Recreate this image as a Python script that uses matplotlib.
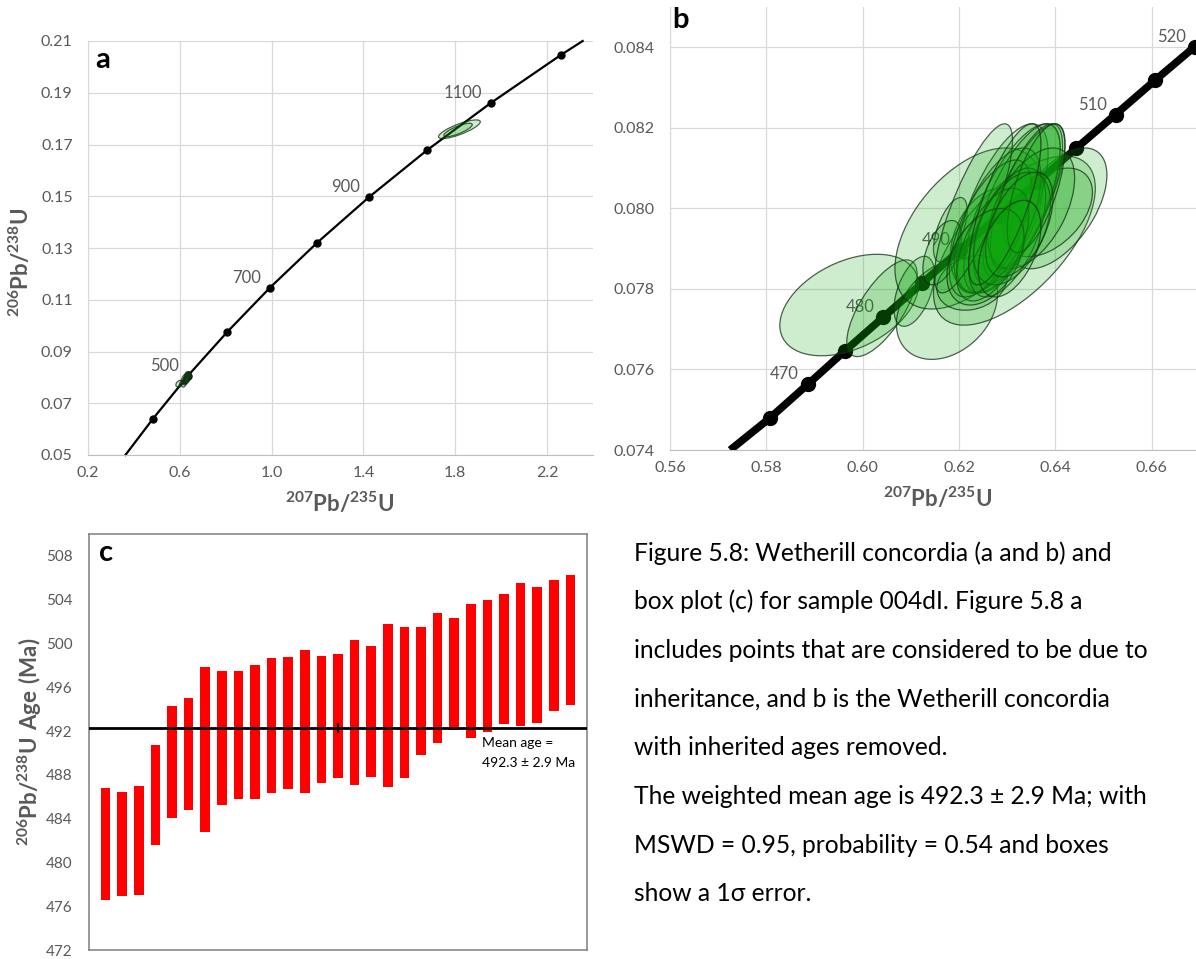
import numpy as np
import matplotlib.pyplot as plt
from matplotlib.patches import Ellipse

plt.rcParams['font.family'] = ['Lato', 'DejaVu Sans']
plt.rcParams['mathtext.fontset'] = 'custom'
plt.rcParams['mathtext.rm'] = 'Lato'
plt.rcParams['mathtext.bf'] = 'Lato:bold'

GREY = '#595959'

# --- panel a: concordia age markers (Ma) and curve ends
conc_a_age = [400, 500, 600, 700, 800, 900, 1000, 1100, 1200]
conc_a_x = [0.483, 0.636, 0.806, 0.993, 1.199, 1.426, 1.677, 1.954, 2.260]
conc_a_y = [0.0640, 0.0807, 0.0975, 0.1147, 0.1321, 0.1498, 0.1678, 0.1860, 0.2046]
conc_a_ends_x = [0.363, 2.355]
conc_a_ends_y = [0.050, 0.210]
labels_a = [500, 700, 900, 1100]

# --- panel b: concordia age markers (Ma) and curve ends
conc_b_age = [465, 470, 475, 480, 485, 490, 495, 500, 505, 510, 515, 520]
conc_b_x = [0.5808, 0.5886, 0.5964, 0.6043, 0.6123, 0.6202, 0.6282, 0.6362,
            0.6443, 0.6525, 0.6607, 0.6689]
conc_b_y = [0.07480, 0.07563, 0.07647, 0.07730, 0.07814, 0.07897, 0.07981,
            0.08065, 0.08149, 0.08233, 0.08318, 0.08401]
conc_b_ends_x = [0.5725, 0.6771]
conc_b_ends_y = [0.0740, 0.08486]
labels_b = [470, 480, 490, 510, 520]

# --- error ellipses of the analyses kept in b (centre, half extent in x / y, correlation)
ell_x = [0.5972, 0.6040, 0.6107, 0.6175, 0.6220, 0.6315, 0.6405, 0.6385, 0.6262, 0.6227,
         0.6182, 0.6165, 0.6290, 0.6310, 0.6320, 0.6335, 0.6280, 0.6265, 0.6340, 0.6300,
         0.6350, 0.6270, 0.6230, 0.6310, 0.6360, 0.6255, 0.6325, 0.6295, 0.6305]
ell_y = [0.07760, 0.07752, 0.07794, 0.07750, 0.07950, 0.07920, 0.08000, 0.07990, 0.07920, 0.07815,
         0.07947, 0.07890, 0.08000, 0.08000, 0.08010, 0.08020, 0.07970, 0.07950, 0.08030, 0.07940,
         0.08000, 0.07910, 0.08000, 0.07950, 0.08050, 0.07880, 0.07960, 0.08010, 0.07900]
ell_hx = [0.0144, 0.0073, 0.0042, 0.0105, 0.0153, 0.0168, 0.0102, 0.0092, 0.0080, 0.0073,
          0.0035, 0.0040, 0.0095, 0.0100, 0.0090, 0.0085, 0.0090, 0.0085, 0.0075, 0.0080,
          0.0090, 0.0075, 0.0081, 0.0080, 0.0060, 0.0080, 0.0070, 0.0075, 0.0065]
ell_hy = [0.00126, 0.00120, 0.00087, 0.00125, 0.00200, 0.00210, 0.00150, 0.00110, 0.00130, 0.00068,
          0.00080, 0.00080, 0.00210, 0.00210, 0.00200, 0.00190, 0.00180, 0.00170, 0.00180, 0.00160,
          0.00150, 0.00140, 0.00210, 0.00140, 0.00160, 0.00120, 0.00130, 0.00200, 0.00120]
ell_rho = [0.40, 0.70, 0.50, 0.30, 0.50, 0.62, 0.55, 0.45, 0.30, 0.20,
           0.60, 0.50, 0.65, 0.70, 0.70, 0.75, 0.60, 0.62, 0.70, 0.55,
           0.50, 0.55, 0.80, 0.45, 0.65, 0.40, 0.50, 0.75, 0.45]

# inherited analyses (only shown in a)
inh_x = [1.818, 1.812]
inh_y = [0.1759, 0.1756]
inh_hx = [0.091, 0.062]
inh_hy = [0.0036, 0.0026]
inh_rho = [0.80, 0.80]

# --- panel c: 1 sigma age boxes (Ma), sorted
age_low = [476.6, 476.9, 477.0, 481.6, 484.1, 484.8, 482.8, 485.2, 485.8, 485.8,
           486.3, 486.7, 486.3, 487.3, 487.7, 487.1, 487.8, 486.9, 487.7, 489.8,
           490.9, 492.1, 491.4, 491.9, 492.6, 492.5, 492.7, 493.8, 494.4]
age_high = [486.8, 486.4, 487.0, 490.7, 494.3, 495.0, 497.85, 497.45, 497.5, 498.0,
            498.7, 498.8, 499.4, 498.9, 499.0, 500.3, 499.8, 501.8, 501.5, 501.5,
            502.8, 502.3, 503.6, 504.0, 504.5, 505.5, 505.2, 505.8, 506.3]
mean_age = 492.3
mean_err = 2.9

caption = [
    "Figure 5.8: Wetherill concordia (a and b) and",
    "box plot (c) for sample 004dI. Figure 5.8 a",
    "includes points that are considered to be due to",
    "inheritance, and b is the Wetherill concordia",
    "with inherited ages removed.",
    "The weighted mean age is 492.3 \u00b1 2.9 Ma; with",
    "MSWD = 0.95, probability = 0.54 and boxes",
    "show a 1\u03c3 error.",
]

W, H = 1196, 959


def px_axes(fig, left, top, right, bottom):
    return fig.add_axes([left / W, 1 - bottom / H, (right - left) / W, (bottom - top) / H])


def error_ellipse(ax, x, y, hx, hy, rho, **kw):
    cov = np.array([[hx ** 2, rho * hx * hy], [rho * hx * hy, hy ** 2]])
    vals, vecs = np.linalg.eigh(cov)
    angle = np.degrees(np.arctan2(vecs[1, 1], vecs[0, 1]))
    ax.add_patch(Ellipse((x, y), 2 * np.sqrt(vals[1]), 2 * np.sqrt(vals[0]),
                         angle=angle, **kw))


def excel_style(ax):
    for s in ['top', 'right']:
        ax.spines[s].set_visible(False)
    ax.spines['left'].set_color('#d9d9d9')
    ax.spines['bottom'].set_color('#bfbfbf')
    ax.grid(True, color='#d9d9d9', lw=0.9)
    ax.set_axisbelow(True)
    ax.tick_params(length=0, labelsize=11.5, labelcolor=GREY)
    ax.tick_params(axis='y', pad=11)
    ax.tick_params(axis='x', pad=8)


ell_kw = dict(facecolor=(0.05, 0.65, 0.05, 0.2), edgecolor=(0.08, 0.18, 0.08, 0.75),
              lw=0.9, zorder=3)

fig = plt.figure(figsize=(W / 100, H / 100), dpi=100)
xlab = r'$\mathbf{{}^{207}Pb/{}^{235}U}$'
ylab = r'$\mathbf{{}^{206}Pb/{}^{238}U}$'

# ---------------- panel a
ax = px_axes(fig, 88, 41, 593, 455)
excel_style(ax)
ax.set_xlim(0.2, 2.4)
ax.set_ylim(0.05, 0.21)
ax.set_xticks(np.arange(0.2, 2.3, 0.4))
ax.set_yticks(np.arange(0.05, 0.2101, 0.02))
ax.xaxis.set_major_formatter('{x:.1f}')
ax.yaxis.set_major_formatter('{x:.2f}')
line_x = [conc_a_ends_x[0]] + conc_a_x + [conc_a_ends_x[1]]
line_y = [conc_a_ends_y[0]] + conc_a_y + [conc_a_ends_y[1]]
ax.plot(line_x, line_y, color='black', lw=1.6, zorder=2, clip_on=False)
ax.plot(conc_a_x, conc_a_y, 'o', color='black', ms=5, zorder=2)
for age, x, y in zip(conc_a_age, conc_a_x, conc_a_y):
    if age in labels_a:
        ax.annotate(str(age), (x, y), xytext=(-9, 10), textcoords='offset pixels',
                    ha='right', va='center', fontsize=12, color=GREY, zorder=1)
for i in range(len(ell_x)):
    error_ellipse(ax, ell_x[i], ell_y[i], ell_hx[i], ell_hy[i], ell_rho[i], **ell_kw)
for i in range(len(inh_x)):
    error_ellipse(ax, inh_x[i], inh_y[i], inh_hx[i], inh_hy[i], inh_rho[i], **ell_kw)
ax.text(0.015, 0.985, 'a', transform=ax.transAxes, fontsize=21, fontweight='bold',
        va='top', ha='left')
fig.text(340 / W, 1 - 503 / H, xlab, ha='center', va='center', fontsize=16, color=GREY)
fig.text(20 / W, 1 - 262 / H, ylab, ha='center', va='center', fontsize=16, color=GREY,
         rotation=90)

# ---------------- panel b
ax = px_axes(fig, 670, 7, 1196, 450)
excel_style(ax)
ax.set_xlim(0.56, 0.6692)
ax.set_ylim(0.074, 0.085)
ax.set_xticks(np.arange(0.56, 0.6601, 0.02))
ax.set_yticks(np.arange(0.074, 0.0841, 0.002))
ax.xaxis.set_major_formatter('{x:.2f}')
ax.yaxis.set_major_formatter('{x:.3f}')
line_x = [conc_b_ends_x[0]] + conc_b_x + [conc_b_ends_x[1]]
line_y = [conc_b_ends_y[0]] + conc_b_y + [conc_b_ends_y[1]]
ax.plot(line_x, line_y, color='black', lw=5.5, zorder=2, solid_capstyle='butt')
ax.plot(conc_b_x, conc_b_y, 'o', color='black', ms=10, zorder=2)
for age, x, y in zip(conc_b_age, conc_b_x, conc_b_y):
    if age in labels_b:
        ax.annotate(str(age), (x, y), xytext=(-9, 10), textcoords='offset pixels',
                    ha='right', va='center', fontsize=12, color=GREY, zorder=1)
for i in range(len(ell_x)):
    error_ellipse(ax, ell_x[i], ell_y[i], ell_hx[i], ell_hy[i], ell_rho[i], **ell_kw)
ax.text(0.005, 1.0, 'b', transform=ax.transAxes, fontsize=21, fontweight='bold',
        va='top', ha='left')
fig.text(938 / W, 1 - 498 / H, xlab, ha='center', va='center', fontsize=16, color=GREY)

# ---------------- panel c
ax = px_axes(fig, 89, 534, 587, 950)
pos = np.arange(1, len(age_low) + 1)
ax.bar(pos, np.array(age_high) - np.array(age_low), bottom=age_low, width=0.58,
       color='#ff0000', zorder=2)
ax.axhline(mean_age, color='black', lw=2, zorder=3)
ax.plot(pos.mean(), mean_age, marker='|', ms=7, mew=1.5, color='black', zorder=4)
ax.set_xlim(0, 30)
ax.set_ylim(472, 510)
ax.set_yticks(np.arange(472, 509, 4))
ax.set_xticks([])
ax.tick_params(length=0, labelsize=11, labelcolor=GREY, pad=12)
for s in ax.spines.values():
    s.set_color('#7f7f7f')
    s.set_linewidth(1.1)
ax.text(0.02, 0.985, 'c', transform=ax.transAxes, fontsize=21, fontweight='bold',
        va='top', ha='left')
ax.text(23.7, 490.9, 'Mean age =', fontsize=10, ha='left', va='center', zorder=4)
ax.text(23.7, 489.1, f'{mean_age} \u00b1 {mean_err} Ma', fontsize=10, ha='left',
        va='center', zorder=4)
fig.text(30 / W, 1 - 742 / H, r'$\mathbf{{}^{206}Pb/{}^{238}U\ Age\ (Ma)}$', ha='center',
         va='center', fontsize=16, color=GREY, rotation=90)

# ---------------- caption
for i, line in enumerate(caption):
    fig.text(634 / W, 1 - (553 + i * 48.7) / H, line, ha='left', va='center',
             fontsize=17.7, color='black')

fig.savefig('out.png', dpi=100)
